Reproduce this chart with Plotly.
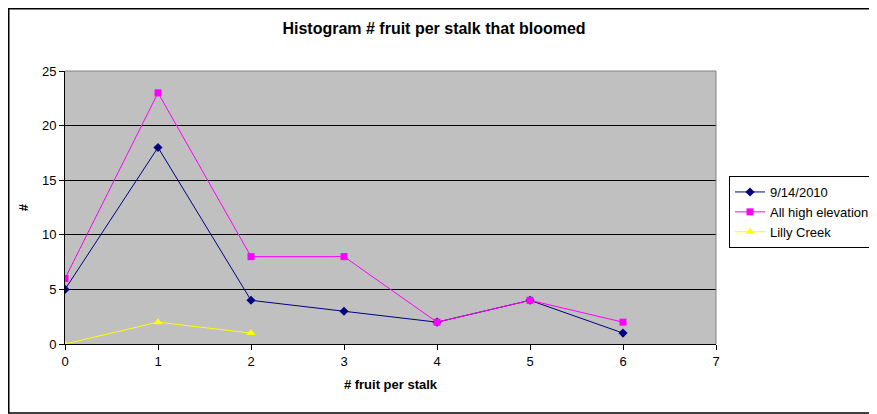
import plotly.graph_objs as go

# datos
fruit = [0, 1, 2, 3, 4, 5, 6]
fecha_2010 = [5, 18, 4, 3, 2, 4, 1]
high_elev = [6, 23, 8, 8, 2, 4, 2]
lilly_x = [0, 1, 2]
lilly = [0, 2, 1]

# la pagina deja 8px de margen en el body, se compensa aqui
OFF = 8
W, H = 877 - OFF, 414 - OFF
L, R, T, B = 65 - OFF, 161, 71 - OFF, 70
pw, ph = W - L - R, H - T - B

fuente = "Liberation Sans, Arial, sans-serif"

trace1 = go.Scatter(x=fruit, y=fecha_2010, name="9/14/2010", mode="lines+markers",
                    line=dict(color="#000080", width=1),
                    marker=dict(symbol="diamond", size=7, color="#000080"))
trace2 = go.Scatter(x=fruit, y=high_elev, name="All high elevation", mode="lines+markers",
                    line=dict(color="#FF00FF", width=1),
                    marker=dict(symbol="square", size=7, color="#FF00FF"))
trace3 = go.Scatter(x=lilly_x, y=lilly, name="Lilly Creek", mode="lines+markers",
                    line=dict(color="#FFFF00", width=1),
                    marker=dict(symbol="triangle-up", size=8, color="#FFFF00"))

layout = go.Layout(
    width=W, height=H,
    margin=dict(l=L, r=R, t=T, b=B, autoexpand=False),
    paper_bgcolor="white", plot_bgcolor="#C0C0C0",
    font=dict(family=fuente, size=13, color="black"),
    title=dict(text="<b>Histogram # fruit per stalk that bloomed</b>", x=(434 - OFF) / W,
               xanchor="center", y=1 - (28 - OFF) / H, yanchor="middle",
               font=dict(size=16, family=fuente)),
    xaxis=dict(range=[0, 7], dtick=1, showgrid=False, zeroline=False,
               showline=True, linecolor="black", linewidth=1,
               ticks="outside", ticklen=5, tickcolor="black",
               title=dict(text="<b># fruit per stalk</b>", standoff=12, font=dict(size=13))),
    yaxis=dict(range=[0, 25], dtick=5, showgrid=True, gridcolor="black", gridwidth=1,
               zeroline=False, showline=True, linecolor="black", linewidth=1,
               ticks="outside", ticklen=5, tickcolor="black",
               title=dict(text="<b>#</b>", standoff=10, font=dict(size=13))),
    legend=dict(x=(729 - 65) / pw, y=(344 - 176) / ph, xanchor="left", yanchor="top",
                bordercolor="black", borderwidth=1, bgcolor="white",
                font=dict(size=13, family=fuente), tracegroupgap=0, itemwidth=30),
    showlegend=True,
    shapes=[
        # borde gris del area de trazado
        dict(type="line", xref="paper", yref="paper", x0=0, x1=1, y0=1, y1=1,
             line=dict(color="#808080", width=1)),
        dict(type="line", xref="paper", yref="paper", x0=1, x1=1, y0=0, y1=1,
             line=dict(color="#808080", width=1)),
        # borde exterior de la figura
        dict(type="rect", xref="paper", yref="paper",
             x0=-(L - 0.75) / pw, x1=1 + (R - 1) / pw,
             y0=-(B - 1) / ph, y1=1 + (T - 0.75) / ph,
             line=dict(color="black", width=1.5)),
    ],
)

fig = go.Figure(data=[trace1, trace2, trace3], layout=layout)
fig.write_html("out.html")
